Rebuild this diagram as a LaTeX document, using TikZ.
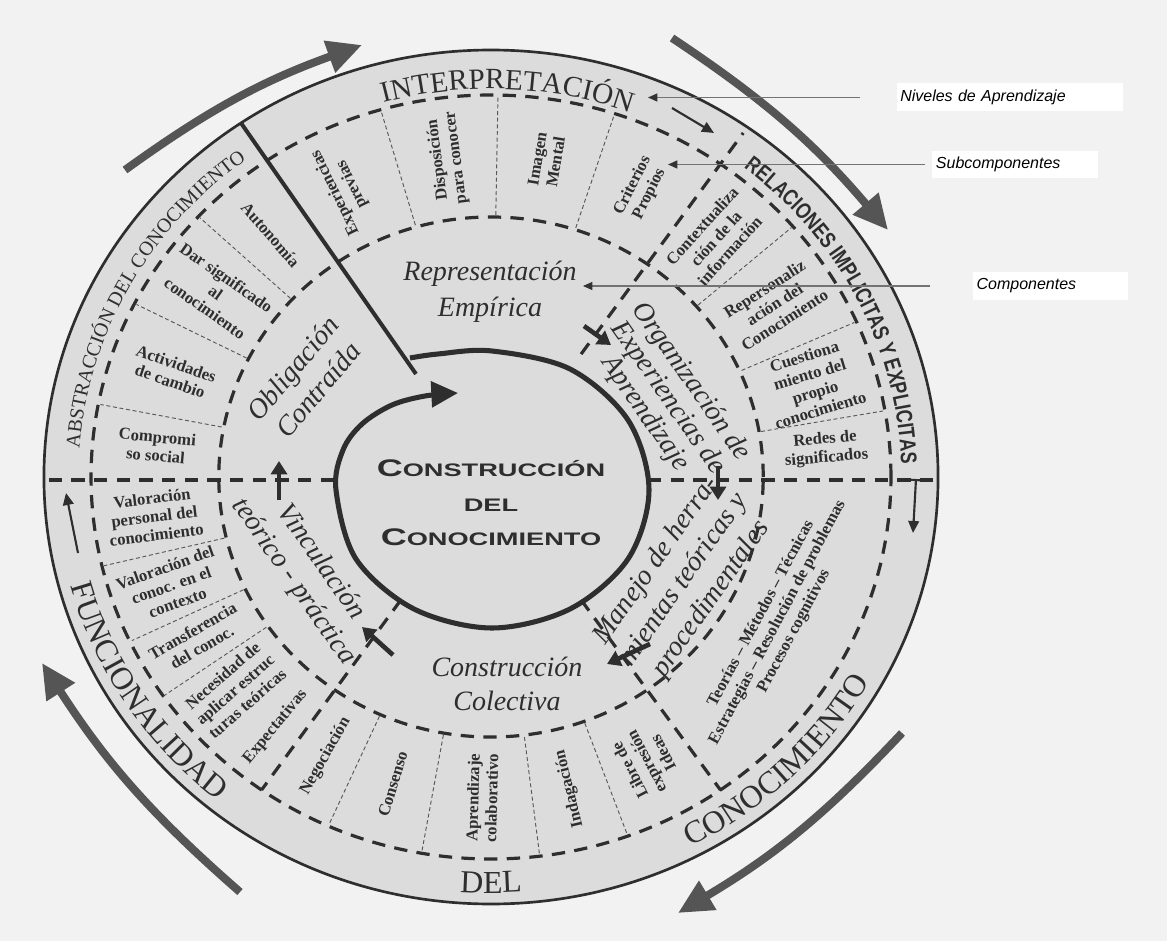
\documentclass[tikz,border=0pt]{standalone}
\usepackage{fontspec}
\setmainfont{Liberation Serif}
\newfontfamily\relfont[FakeStretch=0.78]{Liberation Sans}
\newfontfamily\corefont[FakeStretch=1.5]{Liberation Sans}
\newfontfamily\notefont{Liberation Sans}
\usetikzlibrary{arrows.meta,decorations.text}

\definecolor{pagebg}{HTML}{F2F2F2}
\definecolor{discbg}{HTML}{DCDCDC}
\definecolor{ink}{HTML}{2E2E2E}
\definecolor{arrowgray}{HTML}{555555}

\tikzset{
  ringdash/.style={ink, line width=2.4pt, dash pattern=on 10pt off 7pt},
  celldash/.style={ink!80, line width=0.7pt, dash pattern=on 3pt off 2pt},
  sub/.style={font=\fontsize{12.5}{14}\selectfont\bfseries, text=ink, align=center, inner sep=1pt},
  comp/.style={font=\fontsize{21}{25}\selectfont\itshape, text=ink, align=center, inner sep=1pt},
  bigarrow/.style={arrowgray, line width=6pt, -{Triangle[length=26pt,width=24pt]}},
  levelarrow/.style={ink, line width=1.6pt, -{Triangle[length=9pt,width=8pt]}},
  comparrow/.style={ink, line width=3.5pt, -{Triangle[length=10pt,width=12pt]}},
  notebox/.style={fill=white, font=\notefont\itshape\fontsize{12}{14}\selectfont, anchor=west, align=left, inner xsep=2pt},
  noteline/.style={black!55, line width=0.9pt, -{Triangle[length=7pt,width=6pt,color=black!80]}},
}

\begin{document}
\begin{tikzpicture}[x=0.75pt, y=-0.75pt]
	\fill[pagebg] (0,0) rectangle (1167,941);
	\useasboundingbox (0,0) rectangle (1167,941);
	
	%disc in polar frame
	\begin{scope}[shift={(491,477)}, y=0.75pt, xscale=1.047]
		\fill[discbg] (0,0) circle[radius=427];
		\draw[ringdash] (0,0) circle[radius=382];
		\draw[ringdash] (0,0) circle[radius=260];
		\draw[ink, line width=2pt] (0,0) circle[radius=427];
		
		%cells of the subcomponents
		\foreach \a in {106,89,72,41,24,10,137,153,169,193.5,205.5,215,-114,-100,-83,-70}
		\draw[celldash] (\a:262) -- (\a:380);
		
		%component borders
		\draw[ringdash] (55:150) -- (55:420);
		\draw[ringdash] (-55:150) -- (-55:382);
		\draw[ringdash] (-125:150) -- (-125:382);
		\draw[ringdash] (150,-3) -- (427,-3);
		\draw[ringdash] (-150,-3) -- (-427,-3);
		\coordinate (rimnw) at (124:427);
		
		%levels
		\path[decorate, decoration={text along path, text align=center, text color=ink,
			text={|\fontsize{22}{22}\selectfont|INTERPRETACIÓN}}]
		(120.2:388) arc[start angle=120.2, end angle=55, radius=388];
		\path[decorate, decoration={text along path, text align=center, text color=ink,
			text={|\relfont\bfseries\fontsize{17}{17}\selectfont|RELACIONES IMPLICITAS Y EXPLICITAS}}]
		(62:392) arc[start angle=62, end angle=-8.4, radius=392];
		\path[decorate, decoration={text along path, text align=center, text color=ink,
			text={|\fontsize{15}{15}\selectfont|ABSTRACCIÓN DEL CONOCIMIENTO}}]
		(188:394) arc[start angle=188, end angle=114.6, radius=394];
		\path[decorate, decoration={text along path, text align=center, text color=ink,
			text={|\fontsize{24}{24}\selectfont|FUNCIONALIDAD}}]
		(185:416) arc[start angle=185, end angle=241, radius=416];
		\path[decorate, decoration={text along path, text align=center, text color=ink,
			text={|\fontsize{24}{24}\selectfont|DEL}}]
		(250:416) arc[start angle=250, end angle=290, radius=416];
		\path[decorate, decoration={text along path, text align=center, text color=ink,
			text={|\fontsize{24}{24}\selectfont|CONOCIMIENTO}}]
		(288:416) arc[start angle=288, end angle=340, radius=416];
		
		%subcomponents, Representacion
		\node[sub, rotate=116] (expprev) at (116:321) {Experiencias\\previas};
		\node[sub, rotate=97.5] (dispcon) at (97.5:321) {Disposición\\para conocer};
		\node[sub, rotate=80.5] (imagmen) at (80.5:321) {Imagen\\Mental};
		\node[sub, rotate=63.5] (critpro) at (63.5:321) {Criterios\\Propios};
		%Organizacion
		\node[sub, rotate=48] (contextinfo) at (48:321) {Contextualiza\\ción de la\\información};
		\node[sub, rotate=32.5] (repersconoc) at (32.5:321) {Repersonaliz\\ación del\\Conocimiento};
		\node[sub, rotate=17] (cuestconoc) at (17:321) {Cuestiona\\miento del\\propio\\conocimiento};
		\node[sub, rotate=5] (redessig) at (5:321) {Redes de\\significados};
		%Manejo
		\node[sub, rotate=62] (teometod) at (-28:310) {Teorías -- Métodos -- Técnicas\\Estrategias -- Resolución de problemas\\Procesos cognitivos};
		%Construccion colectiva
		\node[sub, rotate=60.5] (negoc) at (-119.5:321) {Negociación};
		\node[sub, rotate=73] (consenso) at (-107:321) {Consenso};
		\node[sub, rotate=88.5] (aprencol) at (-91.5:321) {Aprendizaje\\colaborativo};
		\node[sub, rotate=103.5] (indag) at (-76.5:321) {Indagación};
		\node[sub, rotate=117.5] (libreexp) at (-62.5:321) {Libre de\\expresión\\Ideas};
		%Vinculacion
		\node[sub, rotate=7] (valpers) at (187:324) {Valoración\\personal del\\conocimiento};
		\node[sub, rotate=19.5] (valcont) at (199.5:324) {Valoración del\\conoc. en el\\contexto};
		\node[sub, rotate=30] (transf) at (210:324) {Transferencia\\del conoc.};
		\node[sub, rotate=41] (necesid) at (221:324) {Necesidad de\\aplicar estruc\\turas teóricas};
		\node[sub, rotate=50.5] (expect) at (230.5:324) {Expectativas};
		%Obligacion
		\node[sub, rotate=-49] (autonom) at (131:321) {Autonomía};
		\node[sub, rotate=-35] (darsig) at (145:321) {Dar significado\\al\\conocimiento};
		\node[sub, rotate=-19] (activcamb) at (161:321) {Actividades\\de cambio};
		\node[sub, rotate=-5.5] (comprom) at (174.5:321) {Compromi\\so social};
	\end{scope}
	
	%central loop
	\coordinate (loopend) at (416,374);
	\draw[ink, line width=3pt] (rimnw) -- (loopend);
	\draw[ink, line width=3.8pt, -{Triangle[length=20pt,width=19pt]}]
	plot[smooth, tension=0.55] coordinates {(410,358) (438,354) (492,351) (570,369) (628,420) (649,490)
		(628,559) (570,609) (492,628) (414,609) (356,559) (336,490) (343,450)
		(362,424) (392,405) (425,396) (458,393)};
	\node[font=\corefont\bfseries\fontsize{13.6}{26}\selectfont, text=ink, align=center] (core) at (491,503)
	{{\fontsize{18}{26}\selectfont C}ONSTRUCCIÓN\\DEL\\{\fontsize{18}{26}\selectfont C}ONOCIMIENTO};
	
	%components
	\node[comp, font=\fontsize{21}{27}\selectfont\itshape] (repemp) at (490,292) {Representación\\Empírica};
	\node[comp, rotate=-55, font=\fontsize{21}{21}\selectfont\itshape] (orgexp) at (668,398) {Organización de\\Experiencias de\\Aprendizaje};
	\node[comp, rotate=55] (manejo) at (684,580) {Manejo de herra-\\mientas teóricas y\\procedimentales};
	\node[comp] (constcol) at (507,684) {Construcción\\Colectiva};
	\node[comp, rotate=-55] (vincul) at (307,572) {Vinculación\\teórico - práctica};
	\node[comp, rotate=50] (oblig) at (305,379) {Obligación\\Contraída};
	
	%flow between components
	\draw[comparrow] (584,326) -- (611,345);
	\draw[comparrow] (718,466) -- (718,500);
	\draw[comparrow] (650,644) -- (607,664);
	\draw[comparrow] (393,655) -- (362,627);
	\draw[comparrow] (279,500) -- (279,461);
	
	%flow between levels
	\draw[levelarrow] (672,108) -- (714,133);
	\draw[levelarrow, {Bar[width=14pt]}-{Triangle[length=9pt,width=8pt]}] (916,479) -- (913,533);
	\draw[levelarrow] (78,553) -- (66,493);
	
	%outer arrows
	\draw[bigarrow] (125,170) to[bend left=8] (362,45);
	\draw[bigarrow] (672,38) to[bend left=8] (888,230);
	\draw[bigarrow] (902,733) to[bend left=8] (678,913);
	\draw[bigarrow] (240,892) to[bend left=8] (42,663);
	
	%notes
	\node[notebox, minimum width=169.5pt, minimum height=21pt, text width=165pt] (nivel) at (897,97.5) {Niveles de Aprendizaje};
	\node[notebox, minimum width=124.5pt, minimum height=20pt, text width=119pt] (subcomp) at (932,164.5) {Subcomponentes};
	\node[notebox, minimum width=116pt, minimum height=21pt, text width=111pt] (compon) at (973,286) {Componentes};
	\coordinate (niveltip) at (648,97.5);
	\coordinate (subtip) at (668,164.5);
	\coordinate (comptip) at (583,286);
	\draw[noteline, shorten <=28pt] (nivel.west) -- (niveltip);
	\draw[noteline, shorten <=5pt] (subcomp.west) -- (subtip);
	\draw[noteline, shorten <=32pt] (compon.west) -- (comptip);
\end{tikzpicture}
\end{document}
